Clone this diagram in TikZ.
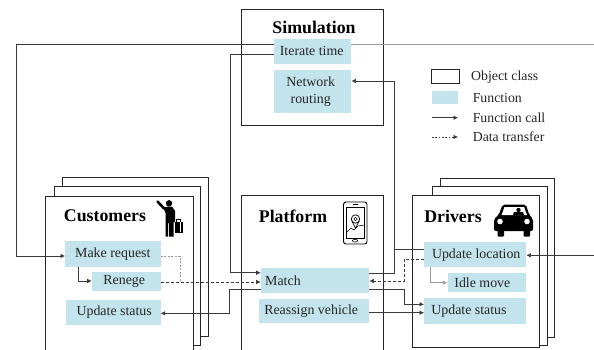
\documentclass[tikz,border=0pt]{standalone}
\usepackage{fontspec}
\setmainfont{Liberation Serif}
\usetikzlibrary{arrows.meta}
\definecolor{fnblue}{HTML}{C3E3ED}
\definecolor{linegray}{HTML}{9A9A9A}
\definecolor{linedark}{HTML}{3A3A3A}
\tikzset{
  x=1pt,y=-1pt,
  objbox/.style={draw=black!85,line width=1pt,fill=white},
  fn/.style={fill=fnblue,draw=none,inner sep=0pt,font=\fontsize{13.9}{17}\selectfont,text=black!85,align=center},
  title/.style={font=\bfseries\fontsize{17.8}{19}\selectfont,inner sep=0pt},
  call/.style={draw=linedark,line width=0.6pt,-{Latex[length=4.5pt,width=4.5pt]}},
  data/.style={draw=linedark,line width=0.6pt,dash pattern=on 3pt off 2pt,-{Latex[length=4.5pt,width=4.5pt]}},
  plain/.style={draw=linedark,line width=0.6pt},
  plaindash/.style={draw=linegray,line width=0.6pt,dash pattern=on 2pt off 1.5pt},
  legtext/.style={anchor=west,inner sep=0pt,font=\fontsize{13.8}{15}\selectfont,text=black!85},
  icon/.style={fill=black,draw=none}
}
\newcommand{\fnbox}[6]{\node[fn,minimum width=#4-#2,minimum height=#5-#3,anchor=north west] (#1) at (#2,#3) {#6};}
\begin{document}
\begin{tikzpicture}
\useasboundingbox (0,0) rectangle (594,350);
% object boxes
\draw[objbox] (241.7,10) rectangle (383.3,126);
\draw[objbox] (62.3,177.3) rectangle (208.3,336);
\draw[objbox] (54.7,186.7) rectangle (200.7,345);
\draw[objbox] (440,178.7) rectangle (554.7,337);
\draw[objbox] (432.3,186.7) rectangle (547.3,345);
\draw[objbox] (412.3,195.7) rectangle (539.7,347.3);
\path[fill=white] (45.3,196.7) rectangle (193.3,350);
\draw[objbox] (45.3,352) -- (45.3,196.7) -- (193.3,196.7) -- (193.3,352);
\path[fill=white] (241.7,195.7) rectangle (383.3,350);
\draw[objbox] (241.7,352) -- (241.7,195.7) -- (383.3,195.7) -- (383.3,352);
% titles
\node[title] (tsim) at (314,27.5) {Simulation};
\node[title] (tcus) at (105,215.5) {Customers};
\node[title] (tpla) at (293,216.5) {Platform};
\node[title] (tdri) at (453,216) {Drivers};
% functions
\fnbox{iter}{274}{38.5}{351}{64}{Iterate time\hspace*{2pt}}
\fnbox{netw}{274}{70}{351}{113}{Network\hspace*{4pt}\\routing\hspace*{4pt}}
\fnbox{match}{260.7}{267.7}{369}{292.7}{}
\node[fn,fill=none,anchor=west] (matcht) at (265,280.5) {Match};
\fnbox{reas}{259}{299}{369}{323}{Reassign vehicle\hspace*{6pt}}
\fnbox{mreq}{65}{241}{160.3}{266.7}{Make request}
\fnbox{ren}{91.7}{271.7}{160.3}{290.7}{Renege\hspace*{4pt}}
\fnbox{cust}{65.7}{299.7}{160.3}{325}{\hspace*{2pt}Update status}
\fnbox{uloc}{424}{242}{526}{267}{\hspace*{2pt}Update location}
\fnbox{idle}{447.3}{272.7}{526}{291.7}{Idle move\hspace*{9pt}}
\fnbox{dust}{424}{298}{525.5}{323.3}{Update status\hspace*{12pt}}
% free ends
\coordinate (redge1) at (594,44.7);
\coordinate (redge2) at (594,255.3);
\coordinate (jn) at (394,249);
% connectors
\draw[draw=linegray,line width=1.3pt] (iter.east |- redge1) -- (redge1);
\draw[call] (iter.west |- redge1) -- (16,44.7) -- (16,256) -- (mreq.west |- 0,256);
\draw[call] (iter.west |- 0,54.5) -- (230,54.5) -- (230,272.7) -- (match.west |- 0,272.7);
\draw[call] (match.east |- 0,273) -- (394,273) -- (394,81) -- (netw.east |- 0,81);
\draw[plain] (uloc.west |- jn) -- (jn);
\draw[call] (redge2) -- (uloc.east |- redge2);
\draw[call] (78,266.7) -- (78,281) -- (ren.west |- 0,281);
\draw[call,draw=linegray] (430.7,267) -- (430.7,282.7) -- (idle.west |- 0,282.7);
\draw[plaindash] (mreq.east |- 0,256) -- (180,256) -- (180,282);
\draw[data] (ren.east |- 0,282) -- (match.west |- 0,282);
\draw[data] (uloc.west |- 0,259.3) -- (404,259.3) -- (404,281) -- (match.east |- 0,281);
\draw[call] (match.west |- 0,289.3) -- (229.3,289.3) -- (229.3,313.3) -- (cust.east |- 0,313.3);
\draw[call] (match.east |- 0,289.3) -- (404.3,289.3) -- (404.3,304.3) -- (dust.west |- 0,304.3);
\draw[call] (reas.east |- 0,312.7) -- (dust.west |- 0,312.7);
% legend
\draw[draw=black!85,line width=0.8pt] (431,69.3) rectangle (459,83);
\fill[fnblue] (432,91.3) rectangle (458,104);
\coordinate (la1) at (432,117.7); \coordinate (la2) at (458,117.7);
\coordinate (lb1) at (432,137); \coordinate (lb2) at (458,137);
\draw[call] (la1) -- (la2);
\draw[data,dash pattern=on 1.8pt off 1.5pt] (lb1) -- (lb2);
\node[legtext] (l1) at (471,77) {Object class};
\node[legtext] (l2) at (472.6,98) {Function};
\node[legtext] (l3) at (472.6,118) {Function call};
\node[legtext] (l4) at (472.6,137) {Data transfer};
% customer icon
\fill[icon] (169,203.3) circle (3.2);
\draw[black,line width=2.6pt,line cap=round] (157.5,201.5) -- (164,208.5);
\fill[icon] (163,207) -- (172,206.5) -- (175,211) -- (175,222) -- (173.5,222) -- (173.5,236.5) -- (169,236.5) -- (169,223) -- (168,223) -- (168,236.5) -- (165.5,236.5) -- (165.5,213) -- cycle;
\fill[icon] (174.5,221.5) rectangle (183,232.5);
\draw[black,line width=0.7pt] (176.5,221.5) -- (176.5,219.5) -- (180.5,219.5) -- (180.5,221.5);
\fill[white] (180.3,222) rectangle (181,232);
% phone icon
\draw[black,line width=0.9pt,rounded corners=2.5pt,fill=white] (343.5,202) rectangle (367,244);
\draw[black,line width=0.6pt] (346,207.5) rectangle (364.5,238);
\draw[black,line width=0.7pt] (352.5,204.6) -- (358,204.6);
\draw[black,line width=0.6pt] (355,240.7) ellipse (2.6 and 1.4);
\draw[black,line width=0.7pt] (355.5,219) circle (4.2);
\draw[black,line width=0.6pt] (355.5,219) circle (1.7);
\draw[black,line width=0.7pt] (351.6,220.5) -- (355.5,228) -- (359.4,220.5);
\draw[black,line width=0.6pt] (346,233) -- (351,228) -- (354,230) -- (358,226) -- (364.5,225);
% car icon
\fill[icon,rounded corners=2pt] (494,231) -- (494,219) -- (499,214.5) -- (502.5,204.5) -- (526,204.5) -- (529,214.5) -- (533,219) -- (533,231) -- cycle;
\fill[icon,rounded corners=1pt] (497.5,229) rectangle (504,236.7);
\fill[icon,rounded corners=1pt] (523.5,229) rectangle (530,236.7);
\fill[white] (501.5,215) -- (504.5,207) -- (524,207) -- (527,215) -- cycle;
\fill[icon] (518.5,210) circle (2.2);
\fill[icon] (513,215.2) -- (514,212) -- (523,212) -- (524,215.2) -- cycle;
\fill[white] (500,221.5) circle (2.8);
\fill[white] (527,221.5) circle (2.8);
\end{tikzpicture}
\end{document}
